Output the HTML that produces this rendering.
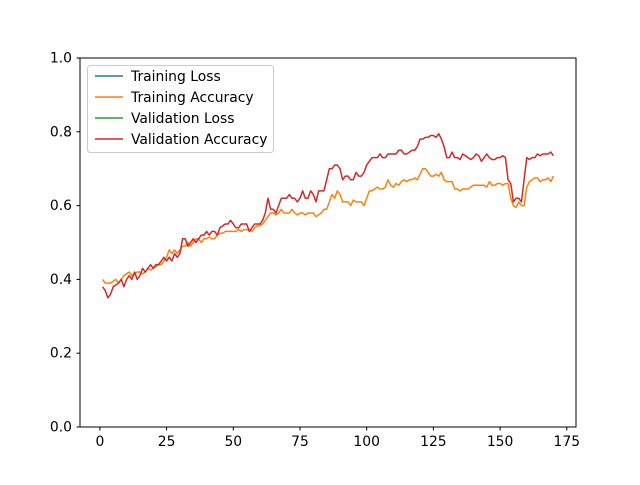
<!DOCTYPE html>
<html><head><meta charset="utf-8"><style>
body{margin:0;background:#fff}
text{font-family:"DejaVu Sans","Liberation Sans",sans-serif;font-size:13.9px;fill:#000}
</style></head><body>
<svg id="chart" width="640" height="480" xmlns="http://www.w3.org/2000/svg">
<rect width="640" height="480" fill="#fff"/>
<g id="marks"></g>
<rect x="80" y="58" width="496" height="369" fill="none" stroke="#000" stroke-width="1"/>
<g id="ticks"></g>
<g>
<rect x="87.5" y="65.5" width="186" height="87" rx="3" fill="#fff" fill-opacity="0.8" stroke="#ccc"/>
<g><line x1="95" y1="76" x2="123" y2="76" stroke="#1f77b4" stroke-width="1.5"/><text x="131" y="81">Training Loss</text></g>
<g><line x1="95" y1="97" x2="123" y2="97" stroke="#ff7f0e" stroke-width="1.5"/><text x="131" y="102">Training Accuracy</text></g>
<g><line x1="95" y1="118" x2="123" y2="118" stroke="#2ca02c" stroke-width="1.5"/><text x="131" y="123">Validation Loss</text></g>
<g><line x1="95" y1="139" x2="123" y2="139" stroke="#d62728" stroke-width="1.5"/><text x="131" y="144">Validation Accuracy</text></g>
</g>
</svg>
<script>
const xTicks=[0,25,50,75,100,125,150,175];
const yTicks=[0.0,0.2,0.4,0.6,0.8,1.0];
const trainAcc=[0.40,0.39,0.39,0.39,0.395,0.40,0.39,0.40,0.41,0.415,0.42,0.41,0.415,0.42,0.42,0.415,0.42,0.43,0.425,0.43,0.435,0.44,0.44,0.45,0.46,0.48,0.47,0.48,0.47,0.48,0.49,0.49,0.50,0.49,0.50,0.51,0.51,0.50,0.51,0.51,0.515,0.51,0.51,0.52,0.525,0.525,0.53,0.53,0.53,0.53,0.53,0.535,0.53,0.535,0.535,0.535,0.53,0.54,0.545,0.545,0.55,0.56,0.57,0.58,0.58,0.575,0.58,0.59,0.58,0.58,0.58,0.59,0.58,0.575,0.58,0.58,0.575,0.58,0.58,0.58,0.57,0.575,0.58,0.59,0.59,0.61,0.63,0.62,0.64,0.63,0.61,0.61,0.61,0.60,0.615,0.61,0.61,0.61,0.60,0.62,0.64,0.64,0.645,0.65,0.645,0.645,0.65,0.67,0.655,0.65,0.66,0.655,0.665,0.67,0.665,0.67,0.67,0.675,0.67,0.685,0.70,0.70,0.69,0.68,0.68,0.685,0.68,0.69,0.67,0.665,0.665,0.665,0.645,0.645,0.64,0.645,0.645,0.645,0.65,0.655,0.655,0.655,0.655,0.655,0.65,0.665,0.655,0.655,0.66,0.66,0.655,0.66,0.66,0.62,0.60,0.595,0.61,0.60,0.60,0.65,0.665,0.67,0.675,0.675,0.665,0.67,0.67,0.675,0.665,0.68];
const valAcc=[0.38,0.37,0.35,0.36,0.38,0.385,0.39,0.40,0.38,0.40,0.41,0.40,0.42,0.40,0.41,0.43,0.42,0.43,0.44,0.43,0.44,0.44,0.45,0.46,0.45,0.46,0.45,0.47,0.46,0.47,0.51,0.51,0.49,0.50,0.51,0.50,0.51,0.52,0.52,0.53,0.52,0.53,0.53,0.52,0.54,0.545,0.55,0.55,0.56,0.55,0.54,0.54,0.55,0.55,0.55,0.53,0.54,0.55,0.55,0.55,0.56,0.58,0.62,0.59,0.59,0.58,0.60,0.62,0.62,0.62,0.63,0.62,0.62,0.61,0.62,0.64,0.62,0.62,0.64,0.63,0.61,0.64,0.64,0.64,0.67,0.70,0.70,0.71,0.71,0.70,0.67,0.68,0.68,0.67,0.67,0.69,0.68,0.68,0.69,0.71,0.72,0.73,0.73,0.73,0.74,0.73,0.73,0.74,0.74,0.74,0.74,0.75,0.75,0.74,0.74,0.745,0.75,0.75,0.76,0.78,0.78,0.785,0.785,0.79,0.79,0.785,0.795,0.78,0.76,0.73,0.73,0.745,0.73,0.73,0.725,0.74,0.735,0.73,0.725,0.73,0.74,0.735,0.72,0.73,0.74,0.73,0.725,0.725,0.73,0.73,0.735,0.73,0.67,0.66,0.61,0.62,0.62,0.61,0.67,0.73,0.725,0.73,0.73,0.74,0.735,0.74,0.74,0.74,0.745,0.735];
const NS='http://www.w3.org/2000/svg';
const n=valAcc.length;
const xmin=1-(n-1)*0.05, xmax=n+(n-1)*0.05;
const xs=v=>80+(v-xmin)/(xmax-xmin)*496;
const ys=v=>427-v*369;
const marks=document.getElementById('marks'), ticks=document.getElementById('ticks');
function line(arr,color,name){
  const p=document.createElementNS(NS,'polyline');
  p.setAttribute('points',arr.map((v,i)=>xs(i+1).toFixed(2)+','+ys(v).toFixed(2)).join(' '));
  p.setAttribute('fill','none');p.setAttribute('stroke',color);p.setAttribute('stroke-width','1.5');
  p.setAttribute('stroke-linejoin','round');
  
  
  marks.appendChild(p);
}
line(trainAcc,'#ff7f0e','training-accuracy-line');
line(valAcc,'#d62728','validation-accuracy-line');
xTicks.forEach(t=>{
  const x=xs(t);
  const l=document.createElementNS(NS,'line');
  l.setAttribute('x1',x);l.setAttribute('x2',x);l.setAttribute('y1',427);l.setAttribute('y2',430.5);l.setAttribute('stroke','#000');
  
  
  ticks.appendChild(l);
  const tx=document.createElementNS(NS,'text');
  tx.setAttribute('x',x);tx.setAttribute('y',446);tx.setAttribute('text-anchor','middle');tx.textContent=t;
  
  
  ticks.appendChild(tx);
});
yTicks.forEach(t=>{
  const y=ys(t);
  const l=document.createElementNS(NS,'line');
  l.setAttribute('x1',76.5);l.setAttribute('x2',80);l.setAttribute('y1',y);l.setAttribute('y2',y);l.setAttribute('stroke','#000');
  
  
  ticks.appendChild(l);
  const tx=document.createElementNS(NS,'text');
  tx.setAttribute('x',72);tx.setAttribute('y',y+4.5);tx.setAttribute('text-anchor','end');tx.textContent=t.toFixed(1);
  
  
  ticks.appendChild(tx);
});
</script>
</body></html>
